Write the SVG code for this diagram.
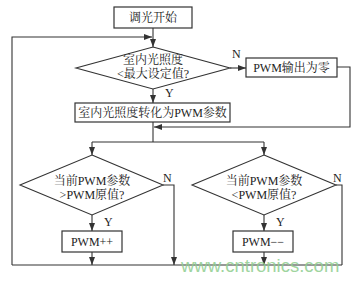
<svg xmlns="http://www.w3.org/2000/svg" width="362" height="281" viewBox="0 0 362 281">
<style>
.box{fill:#fff;stroke:#333;stroke-width:1.2}
.dia{fill:#fff;stroke:#333;stroke-width:1.1}
.t{font-family:"Liberation Serif","Noto Serif CJK SC","Noto Sans CJK SC",serif;font-size:12px;fill:#222;text-anchor:middle}
.lbl{font-family:"Liberation Serif",serif;font-size:12px;fill:#222}
.c{fill:none;stroke:#333;stroke-width:1.1}
.wm{font-family:"Liberation Sans",Arial,sans-serif;font-size:18.5px;fill:#8fce8f;opacity:0.85}
</style>
<defs>
<marker id="ah" markerWidth="8" markerHeight="6" refX="8" refY="3" orient="auto" markerUnits="userSpaceOnUse">
<path d="M0,0 L8,3 L0,6 z" fill="#333"/>
</marker>
</defs>
<rect width="362" height="281" fill="#fff"/>
<g id="connectors">
<path class="c" d="M153,28 V47" marker-end="url(#ah)"/>
<path class="c" d="M12,265 V37 H152" marker-end="url(#ah)"/>
<path class="c" d="M230,68 H246" marker-end="url(#ah)"/>
<path class="c" d="M337,67 H350 V127 H154" marker-end="url(#ah)"/>
<path class="c" d="M153,89 V103" marker-end="url(#ah)"/>
<path class="c" d="M153,122 V142"/>
<path class="c" d="M92,142 H264"/>
<path class="c" d="M92,142 V155" marker-end="url(#ah)"/>
<path class="c" d="M264,142 V155" marker-end="url(#ah)"/>
<path class="c" d="M92,215 V231" marker-end="url(#ah)"/>
<path class="c" d="M163,185 H174 V265" marker-end="url(#ah)"/>
<path class="c" d="M92,252 V265" marker-end="url(#ah)"/>
<path class="c" d="M264,215 V231" marker-end="url(#ah)"/>
<path class="c" d="M264,252 V265" marker-end="url(#ah)"/>
<path class="c" d="M336,185 H342 V265"/>
<path class="c" d="M12,265 H342"/>
<text class="lbl" x="232" y="58">N</text>
<text class="lbl" x="165" y="97">Y</text>
<text class="lbl" x="163" y="182">N</text>
<text class="lbl" x="104" y="226">Y</text>
<text class="lbl" x="333" y="182">N</text>
<text class="lbl" x="276" y="226">Y</text>
</g>
<g id="start">
<rect class="box" x="114" y="7" width="78" height="21"/>
<text class="t" x="153" y="22">调光开始</text>
</g>
<g id="check-max">
<polygon class="dia" points="153,47 230,68 153,89 76,68"/>
<text class="t" x="153" y="64">室内光照度</text>
<text class="t" x="153" y="77.5">&lt;最大设定值?</text>
</g>
<g id="pwm-zero">
<rect class="box" x="246" y="58" width="91" height="19"/>
<text class="t" x="291.5" y="72">PWM输出为零</text>
</g>
<g id="convert">
<rect class="box" x="75" y="103" width="155" height="19"/>
<text class="t" x="152.5" y="117">室内光照度转化为PWM参数</text>
</g>
<g id="check-greater">
<polygon class="dia" points="92,155 163,185 92,215 20,185"/>
<text class="t" x="92" y="185">当前PWM参数</text>
<text class="t" x="92" y="199">&gt;PWM原值?</text>
</g>
<g id="check-less">
<polygon class="dia" points="264,155 336,185 264,215 192,185"/>
<text class="t" x="264" y="185">当前PWM参数</text>
<text class="t" x="264" y="199">&lt;PWM原值?</text>
</g>
<g id="pwm-inc">
<rect class="box" x="62" y="231" width="60" height="21"/>
<text class="t" x="92" y="246">PWM++</text>
</g>
<g id="pwm-dec">
<rect class="box" x="233" y="231" width="60" height="21"/>
<text class="t" x="263" y="246">PWM−−</text>
</g>
<text class="wm" x="181" y="272">www.cntronics.com</text>
</svg>
